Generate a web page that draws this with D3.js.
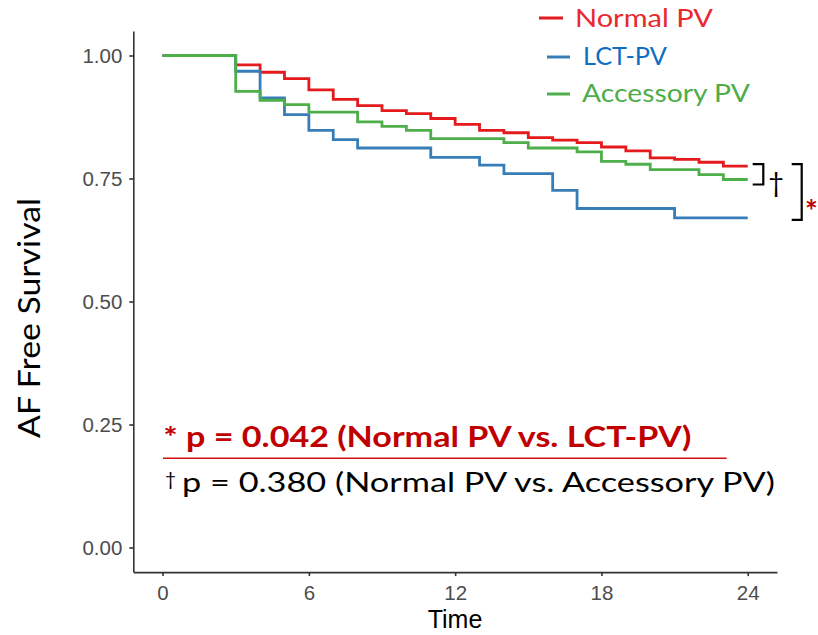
<!DOCTYPE html>
<html>
<head>
<meta charset="utf-8">
<script src="https://cdn.jsdelivr.net/npm/d3@7/dist/d3.min.js"></script>
<style>
  html, body { margin: 0; padding: 0; background: #ffffff; }
  svg { display: block; }
</style>
</head>
<body>
<svg id="chart" width="818" height="635"></svg>
<script>
// Kaplan–Meier step data: months of follow-up and AF-free survival per group
const normalTimes = [0, 3, 4, 5, 6, 7, 8, 9, 10, 11, 12, 13, 14, 15, 16, 17, 18, 19, 20, 21, 22, 23, 24];
const normalSurv  = [1.00, 0.981, 0.966, 0.953, 0.930, 0.911, 0.898, 0.888, 0.882, 0.872, 0.860, 0.848, 0.843, 0.833, 0.828, 0.823, 0.814, 0.806, 0.792, 0.789, 0.783, 0.775, 0.775];

const lctTimes = [0, 3, 4, 5, 6, 7, 8, 11, 13, 14, 16, 17, 21, 24];
const lctSurv  = [1.00, 0.968, 0.914, 0.880, 0.848, 0.829, 0.812, 0.793, 0.777, 0.760, 0.726, 0.689, 0.670, 0.670];

const accTimes = [0, 3, 4, 5, 6, 8, 9, 10, 11, 14, 15, 17, 18, 19, 20, 22, 23, 24];
const accSurv  = [1.00, 0.927, 0.909, 0.900, 0.885, 0.865, 0.856, 0.848, 0.831, 0.823, 0.812, 0.804, 0.785, 0.779, 0.768, 0.758, 0.748, 0.748];

const groupNames  = ["Normal PV", "LCT-PV", "Accessory PV"];
const xTickValues = [0, 6, 12, 18, 24];
const yTickValues = [0, 0.25, 0.50, 0.75, 1.00];

const pLabelMain = "* p = 0.042 (Normal PV vs. LCT-PV)";
const pLabelSecond = "p = 0.380 (Normal PV vs. Accessory PV)";

const lineColors = ["#E41A1C", "#377EB8", "#4DAF4A"];
const textColors = ["#E8292E", "#0F6EC2", "#4DAD48"];

const series = [
  { name: groupNames[0], times: normalTimes, surv: normalSurv },
  { name: groupNames[1], times: lctTimes, surv: lctSurv },
  { name: groupNames[2], times: accTimes, surv: accSurv }
];

const svg = d3.select("#chart");

// panel extents with 5% padding on each side of the data range
const x = d3.scaleLinear().domain([-1.2, 25.2]).range([133.3, 777]);
const y = d3.scaleLinear().domain([-0.05, 1.05]).range([572.1, 30.9]);

// axes
const xAxis = svg.append("g")
  .attr("transform", `translate(0,${y(-0.05)})`)
  .call(d3.axisBottom(x).tickValues(xTickValues).tickSize(4).tickSizeOuter(0).tickPadding(9));
const yAxis = svg.append("g")
  .attr("transform", `translate(${x(-1.2)},0)`)
  .call(d3.axisLeft(y).tickValues(yTickValues).tickFormat(d3.format(".2f")).tickSize(4).tickSizeOuter(0).tickPadding(7));

[xAxis, yAxis].forEach(g => {
  g.select(".domain").attr("stroke", "#333333").attr("stroke-width", 1.6);
  g.selectAll(".tick line").attr("stroke", "#333333").attr("stroke-width", 1.6);
  g.selectAll(".tick text")
    .attr("fill", "#4D4D4D")
    .style("font-family", "'Liberation Sans', Arial, sans-serif")
    .style("font-size", "20.5px");
});

// axis titles
svg.append("text")
  .attr("x", 455).attr("y", 628)
  .attr("text-anchor", "middle")
  .style("font-family", "'Liberation Sans', Arial, sans-serif")
  .style("font-size", "25px")
  .attr("fill", "#000")
  .text("Time");

svg.append("text")
  .attr("transform", "translate(40,318) rotate(-90)")
  .attr("text-anchor", "middle")
  .style("font-family", "Lato, 'Open Sans', sans-serif")
  .style("font-size", "31.5px")
  .attr("fill", "#000")
  .attr("textLength", 240)
  .attr("lengthAdjust", "spacingAndGlyphs")
  .text("AF Free Survival");

// survival step curves
const stepLine = d3.line()
  .x(d => x(d[0]))
  .y(d => y(d[1]))
  .curve(d3.curveStepAfter);

series.forEach((s, i) => {
  const pts = s.times.map((t, k) => [t, s.surv[k]]);
  svg.append("path")
    .datum(pts)
    .attr("d", stepLine)
    .attr("fill", "none")
    .attr("stroke", lineColors[i])
    .attr("stroke-width", 2.8)
    .attr("stroke-linejoin", "miter");
});

// legend
const legendRows = [
  { lx1: 539, lx2: 563, ly: 18, tx: 575, ty: 27, w: 138 },
  { lx1: 547, lx2: 570, ly: 57, tx: 583, ty: 65, w: 84 },
  { lx1: 547, lx2: 570, ly: 94, tx: 582, ty: 101.7, w: 168 }
];
legendRows.forEach((r, i) => {
  svg.append("line")
    .attr("x1", r.lx1).attr("x2", r.lx2)
    .attr("y1", r.ly).attr("y2", r.ly)
    .attr("stroke", lineColors[i]).attr("stroke-width", 3);
  svg.append("text")
    .attr("x", r.tx).attr("y", r.ty)
    .style("font-family", "Lato, 'Open Sans', sans-serif")
    .style("font-size", "25.5px")
    .attr("fill", textColors[i])
    .attr("textLength", r.w)
    .attr("lengthAdjust", "spacingAndGlyphs")
    .text(series[i].name);
});

// comparison brackets at the 24-month endpoints
const endNormal = y(normalSurv[normalSurv.length - 1]);
const endAcc = y(accSurv[accSurv.length - 1]);
const endLct = y(lctSurv[lctSurv.length - 1]);

svg.append("path")
  .attr("d", `M752.7,${endNormal - 2}H763.3V${endAcc + 5}H752.7`)
  .attr("fill", "none").attr("stroke", "#000").attr("stroke-width", 2.2);
svg.append("text")
  .attr("x", 776).attr("y", 192)
  .attr("text-anchor", "middle")
  .style("font-family", "Lato, 'Open Sans', sans-serif")
  .style("font-size", "27px")
  .attr("fill", "#000")
  .text("†");

svg.append("path")
  .attr("d", `M791.7,${endNormal - 2}H801.7V${endLct + 2}H791.7`)
  .attr("fill", "none").attr("stroke", "#000").attr("stroke-width", 2.2);
svg.append("text")
  .attr("x", 805).attr("y", 222)
  .style("font-family", "Lato, 'Open Sans', sans-serif")
  .style("font-size", "30px")
  .style("font-weight", "bold")
  .attr("fill", "#C00000")
  .text("*");

// p-value annotations
svg.append("text")
  .attr("x", 163.3).attr("y", 446.7)
  .style("font-family", "Lato, 'Open Sans', sans-serif")
  .style("font-size", "28px")
  .style("font-weight", "bold")
  .attr("fill", "#C00000")
  .attr("textLength", 528)
  .attr("lengthAdjust", "spacingAndGlyphs")
  .text(pLabelMain);

svg.append("line")
  .attr("x1", 163).attr("x2", 726.7)
  .attr("y1", 458.3).attr("y2", 458.3)
  .attr("stroke", "#D01010").attr("stroke-width", 1.6);

// small raised dagger before the second p-value
svg.append("text")
  .attr("x", 165).attr("y", 486)
  .style("font-family", "Lato, 'Open Sans', sans-serif")
  .style("font-size", "19px")
  .attr("fill", "#000")
  .text("†");

svg.append("text")
  .attr("x", 182).attr("y", 491.7)
  .style("font-family", "Lato, 'Open Sans', sans-serif")
  .style("font-size", "26px")
  .attr("fill", "#000")
  .attr("textLength", 593)
  .attr("lengthAdjust", "spacingAndGlyphs")
  .text(pLabelSecond);
</script>
</body>
</html>
